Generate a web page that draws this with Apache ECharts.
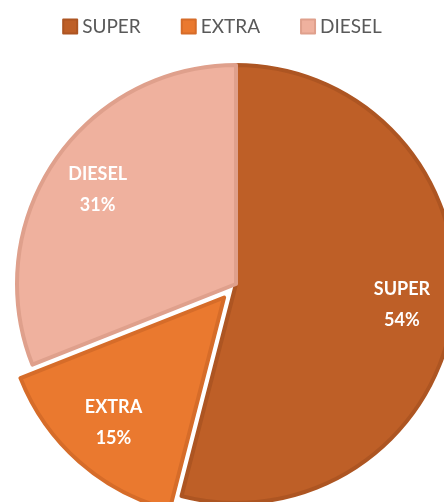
<!DOCTYPE html>
<html>
<head>
<meta charset="utf-8">
<script src="https://cdn.jsdelivr.net/npm/echarts@6/dist/echarts.min.js"></script>
<style>
  html, body { margin: 0; padding: 0; background: #ffffff; }
  #chart { width: 444px; height: 502px; }
</style>
</head>
<body>
<div id="chart"></div>
<script>
// Fuel sales share
const categories = ['SUPER', 'EXTRA', 'DIESEL'];
const shares = [54, 15, 31];
const sliceColors = ['#BE5F27', '#EA792F', '#EFB19E'];
const rimColors = ['#AD5522', '#D66C29', '#DFA08C'];
const pulledOut = ['EXTRA'];

const chart = echarts.init(document.getElementById('chart'));

const pieData = categories.map((name, i) => ({
  name,
  value: shares[i],
  selected: pulledOut.includes(name),
  itemStyle: { color: sliceColors[i], borderColor: rimColors[i] }
}));

const labelData = categories.map((name, i) => ({
  name,
  value: shares[i],
  selected: pulledOut.includes(name)
}));

const CENTER = [236, 284];
const R = 219;

chart.setOption({
  animation: false,
  legend: {
    top: 12,
    left: 'center',
    itemWidth: 14,
    itemHeight: 14,
    itemGap: 40,
    icon: 'rect',
    textStyle: { fontFamily: 'Lato', fontSize: 19, color: '#595959' },
    data: categories
  },
  series: [
    {
      name: 'share',
      type: 'pie',
      center: CENTER,
      radius: R,
      startAngle: 90,
      clockwise: true,
      selectedMode: 'single',
      selectedOffset: 18,
      silent: true,
      itemStyle: { borderWidth: 4 },
      label: { show: false },
      labelLine: { show: false },
      data: pieData
    },
    {
      // transparent ring that carries the slice labels
      name: 'labels',
      type: 'pie',
      center: CENTER,
      radius: [R * 0.5, R],
      startAngle: 90,
      clockwise: true,
      selectedMode: 'single',
      selectedOffset: 18,
      silent: true,
      legendHoverLink: false,
      itemStyle: { color: 'rgba(0,0,0,0)' },
      label: {
        show: true,
        position: 'inside',
        formatter: p => p.name + '\n' + p.value + '%',
        color: '#ffffff',
        fontFamily: 'Lato',
        fontWeight: 'bold',
        fontSize: 18,
        lineHeight: 31
      },
      labelLine: { show: false },
      data: labelData
    }
  ]
});
</script>
</body>
</html>
